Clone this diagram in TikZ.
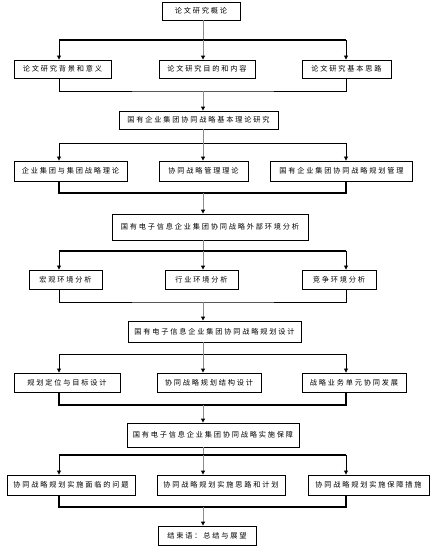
\documentclass[tikz,border=0pt]{standalone}
\usepackage{fontspec}
\newfontfamily\cjk[LetterSpace=25]{Noto Sans CJK SC}
\usetikzlibrary{arrows.meta, positioning, calc}

\begin{document}
\begin{tikzpicture}[
    x=1pt, y=1pt,
    box/.style={rectangle, draw=black, line width=0.9pt, fill=white,
        inner sep=0pt, align=center, font=\cjk\fontsize{7.2}{9}\selectfont},
    trunk/.style={draw=black!45, line width=1pt},
    drop/.style={draw=black, line width=0.8pt},
    arr/.style={-{Triangle[length=4pt, width=4pt, color=black]}},
    thinbus/.style={draw=black, line width=0.9pt},
    thickbus/.style={draw=black, line width=1.9pt}
]
\useasboundingbox (0,0) rectangle (446,-552);

% trunk and drop columns
\coordinate (L) at (59,0);
\coordinate (M) at (203,0);
\coordinate (R) at (346,0);

% boxes
\node[box, minimum width=78pt,  minimum height=18pt] (t)  at (201,-11)    {论文研究概论};
\node[box, minimum width=97pt,  minimum height=18pt] (a1) at (62.5,-69)   {论文研究背景和意义};
\node[box, minimum width=96pt,  minimum height=18pt] (a2) at (207,-69)    {论文研究目的和内容};
\node[box, minimum width=89pt,  minimum height=18pt] (a3) at (346.5,-69)  {论文研究基本思路};
\node[box, minimum width=159pt, minimum height=18pt] (b)  at (198.5,-120) {国有企业集团协同战略基本理论研究};
\node[box, minimum width=113pt, minimum height=20pt] (c1) at (70.5,-171)  {企业集团与集团战略理论};
\node[box, minimum width=89pt,  minimum height=20pt] (c2) at (203.5,-171) {协同战略管理理论};
\node[box, minimum width=142pt, minimum height=20pt] (c3) at (341.5,-171) {国有企业集团协同战略规划管理};
\node[box, minimum width=196pt, minimum height=26pt] (d)  at (210,-227)   {国有电子信息企业集团协同战略外部环境分析};
\node[box, minimum width=73pt,  minimum height=19pt] (e1) at (65.5,-279.5)  {宏观环境分析};
\node[box, minimum width=73pt,  minimum height=19pt] (e2) at (201.5,-279.5) {行业环境分析};
\node[box, minimum width=74pt,  minimum height=19pt] (e3) at (339,-279.5)   {竞争环境分析};
\node[box, minimum width=173pt, minimum height=21pt] (f)  at (214.5,-331.5) {国有电子信息企业集团协同战略规划设计};
\node[box, minimum width=106pt, minimum height=19pt] (g1) at (67,-382.5)  {规划定位与目标设计};
\node[box, minimum width=104pt, minimum height=19pt] (g2) at (209,-382.5) {协同战略规划结构设计};
\node[box, minimum width=104pt, minimum height=19pt] (g3) at (354,-382.5) {战略业务单元协同发展};
\node[box, minimum width=172pt, minimum height=24pt] (h)  at (213,-435)   {国有电子信息企业集团协同战略实施保障};
\node[box, minimum width=128pt, minimum height=20pt] (i1) at (71,-485)    {协同战略规划实施面临的问题};
\node[box, minimum width=128pt, minimum height=20pt] (i2) at (221,-485)   {协同战略规划实施思路和计划};
\node[box, minimum width=121pt, minimum height=20pt] (i3) at (368.5,-485) {协同战略规划实施保障措施};
\node[box, minimum width=98pt,  minimum height=19pt] (j)  at (207,-535.5)  {结束语：总结与展望};

% bus levels
\coordinate (s1) at (203,-40);  \coordinate (k1) at (203,-91);
\coordinate (s2) at (203,-143); \coordinate (k2) at (203,-193);
\coordinate (s3) at (203,-251); \coordinate (k3) at (203,-302);
\coordinate (s4) at (203,-354); \coordinate (k4) at (203,-405);
\coordinate (s5) at (203,-455); \coordinate (k5) at (203,-507);

% fan out
\draw[trunk] (t.south -| M) -- (s1);
\draw[thickbus] (s1 -| L) -- (s1 -| R);
\draw[drop, arr] (s1 -| L) -- (a1.north -| L);
\draw[trunk, arr] (s1) -- (a2.north -| M);
\draw[drop, arr] (s1 -| R) -- (a3.north -| R);

\draw[thinbus] (a1.south -| L) |- (k1) -| (a3.south -| R);
\draw[trunk, arr] (k1) -- (b.north -| M);

\draw[trunk] (b.south -| M) -- (s2);
\draw[thinbus] (s2 -| L) -- (s2 -| R);
\draw[drop, arr] (s2 -| L) -- (c1.north -| L);
\draw[trunk, arr] (s2) -- (c2.north -| M);
\draw[drop, arr] (s2 -| R) -- (c3.north -| R);

\draw[thickbus] (c1.south -| L) |- (k2) -| (c3.south -| R);
\draw[trunk, arr] (k2) -- (d.north -| M);

\draw[trunk] (d.south -| M) -- (s3);
\draw[thickbus] (s3 -| L) -- (s3 -| R);
\draw[drop, arr] (s3 -| L) -- (e1.north -| L);
\draw[trunk, arr] (s3) -- (e2.north -| M);
\draw[drop, arr] (s3 -| R) -- (e3.north -| R);

\draw[thinbus] (e1.south -| L) |- (k3) -| (e3.south -| R);
\draw[trunk, arr] (k3) -- (f.north -| M);

\draw[trunk] (f.south -| M) -- (s4);
\draw[thinbus] (s4 -| L) -- (s4 -| R);
\draw[drop, arr] (s4 -| L) -- (g1.north -| L);
\draw[trunk, arr] (s4) -- (g2.north -| M);
\draw[drop, arr] (s4 -| R) -- (g3.north -| R);

\draw[thickbus] (g1.south -| L) |- (k4) -| (g3.south -| R);
\draw[trunk, arr] (k4) -- (h.north -| M);

\draw[trunk] (h.south -| M) -- (s5);
\draw[thickbus] (s5 -| L) -- (s5 -| R);
\draw[drop, arr] (s5 -| L) -- (i1.north -| L);
\draw[trunk, arr] (s5) -- (i2.north -| M);
\draw[drop, arr] (s5 -| R) -- (i3.north -| R);

\draw[thickbus] (i1.south -| L) |- (k5) -| (i3.south -| R);
\draw[trunk, arr] (k5) -- (j.north -| M);
\end{tikzpicture}
\end{document}
